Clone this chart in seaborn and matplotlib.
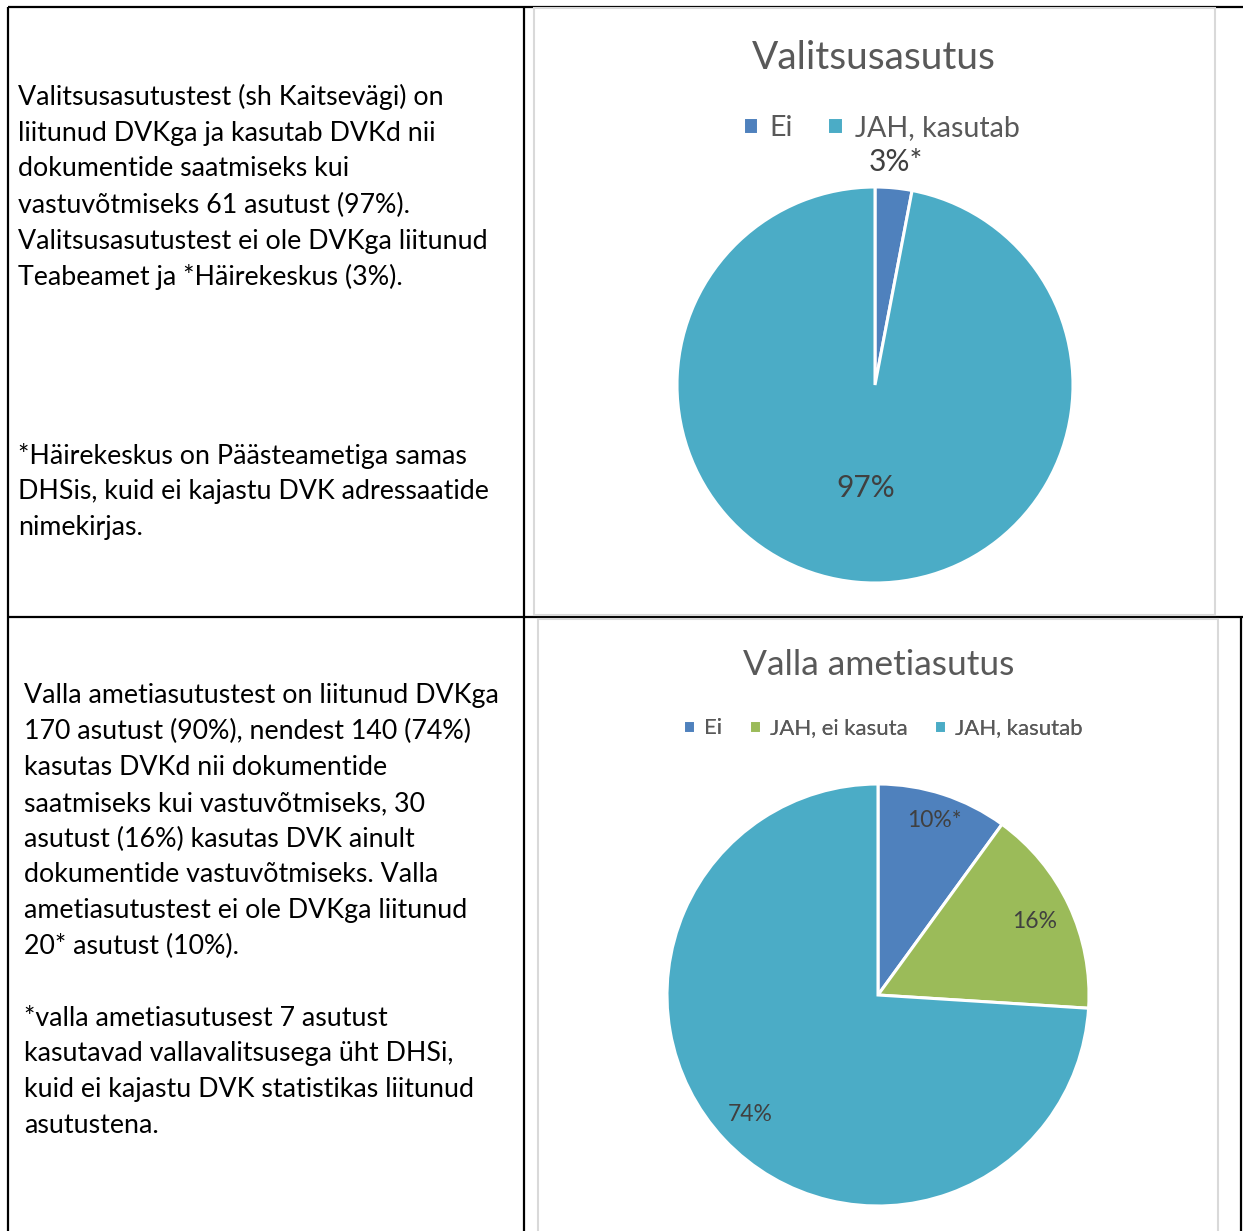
import matplotlib
matplotlib.use("Agg")
import matplotlib.pyplot as plt
import matplotlib.patches as mpatches
import numpy as np
import seaborn as sns

sns.set_theme(style="white")
plt.rcParams['font.family'] = ['Lato', 'DejaVu Sans']

# andmed
kategooriad_1 = ['Ei', 'JAH, kasutab']
vaartused_1 = [3, 97]
sildid_1 = ['3%*', '97%']

kategooriad_2 = ['Ei', 'JAH, ei kasuta', 'JAH, kasutab']
vaartused_2 = [10, 16, 74]
sildid_2 = ['10%*', '16%', '74%']

varvid = {'Ei': '#4F81BD', 'JAH, ei kasuta': '#9BBB59', 'JAH, kasutab': '#4BACC6'}

tekst_1 = [
    "Valitsusasutustest (sh Kaitsevägi) on",
    "liitunud DVKga ja kasutab DVKd nii",
    "dokumentide saatmiseks kui",
    "vastuvõtmiseks 61 asutust (97%).",
    "Valitsusasutustest ei ole DVKga liitunud",
    "Teabeamet ja *Häirekeskus (3%).",
]
markus_1 = [
    "*Häirekeskus on Päästeametiga samas",
    "DHSis, kuid ei kajastu DVK adressaatide",
    "nimekirjas.",
]
tekst_2 = [
    "Valla ametiasutustest on liitunud DVKga",
    "170 asutust (90%), nendest 140 (74%)",
    "kasutas DVKd nii dokumentide",
    "saatmiseks kui vastuvõtmiseks, 30",
    "asutust (16%) kasutas DVK ainult",
    "dokumentide vastuvõtmiseks. Valla",
    "ametiasutustest ei ole DVKga liitunud",
    "20* asutust (10%).",
]
markus_2 = [
    "*valla ametiasutusest 7 asutust",
    "kasutavad vallavalitsusega üht DHSi,",
    "kuid ei kajastu DVK statistikas liitunud",
    "asutustena.",
]

W, H = 1243, 1231
fig = plt.figure(figsize=(W / 100, H / 100), dpi=100)
bg = fig.add_axes([0, 0, 1, 1])
bg.set_xlim(0, W)
bg.set_ylim(H, 0)
bg.axis('off')

# tabeli jooned
must = dict(color='black', lw=1.6, zorder=1, solid_capstyle='butt')
bg.plot([8, 8], [7, H], **must)
bg.plot([524, 524], [7, H], **must)
bg.plot([8, W], [7, 7], **must)
bg.plot([8, W], [617, 617], **must)
bg.plot([1241, 1241], [617, H], **must)

# diagrammide raamid
for x0, y0, x1, y1 in [(534, 8, 1215, 615), (538, 619, 1218, H + 5)]:
    bg.add_patch(mpatches.Rectangle((x0, y0), x1 - x0, y1 - y0, facecolor='white',
                                    edgecolor='#D9D9D9', lw=1.5, zorder=2))

# vasak tekst
def read(lines, x, y0, step):
    for i, s in enumerate(lines):
        bg.text(x, y0 + i * step, s, fontsize=19.3, color='black', va='center', ha='left')

read(tekst_1, 18, 97, 36)
read(markus_1, 18, 456, 35.8)
read(tekst_2, 24, 696, 35.8)
read(markus_2, 24, 1018, 35.8)


def pirukas(cx, cy, r, vaartused, kategooriad, sildid, kaugused, silt_fs, pealkiri, p_x, p_y,
            p_fs, leg_y, leg_fs, leg_cx):
    ax = fig.add_axes([(cx - r) / W, 1 - (cy + r) / H, 2 * r / W, 2 * r / H])
    wedges, _ = ax.pie(vaartused, colors=[varvid[k] for k in kategooriad], startangle=90,
                       counterclock=False, radius=1,
                       wedgeprops=dict(edgecolor='white', linewidth=2.2))
    ax.set_xlim(-1, 1)
    ax.set_ylim(-1, 1)
    ax.axis('off')
    for w, s, d in zip(wedges, sildid, kaugused):
        a = np.deg2rad((w.theta1 + w.theta2) / 2)
        ax.text(d * np.cos(a), d * np.sin(a), s, ha='center', va='center',
                fontsize=silt_fs, color='#404040', clip_on=False)
    bg.text(p_x, p_y, pealkiri, ha='center', va='center', fontsize=p_fs, color='#595959',
            zorder=3)
    leg = bg.legend(wedges, kategooriad, loc='center', bbox_to_anchor=(leg_cx, leg_y),
                    bbox_transform=bg.transData, ncol=len(kategooriad), frameon=False,
                    fontsize=leg_fs, labelcolor='#595959', handlelength=0.55, handleheight=0.55,
                    handletextpad=0.4, columnspacing=1.2)
    bg.add_artist(leg)


pirukas(875, 385, 198, vaartused_1, kategooriad_1, sildid_1, [1.13, 0.52], 21.5,
        'Valitsusasutus', 874, 58, 28, 128, 20.6, 881)
pirukas(878, 995, 211, vaartused_2, kategooriad_2, sildid_2, [0.87, 0.82, 0.83], 16.5,
        'Valla ametiasutus', 879, 665, 25.5, 728, 15.9, 883)

fig.savefig('out.png', dpi=100)
